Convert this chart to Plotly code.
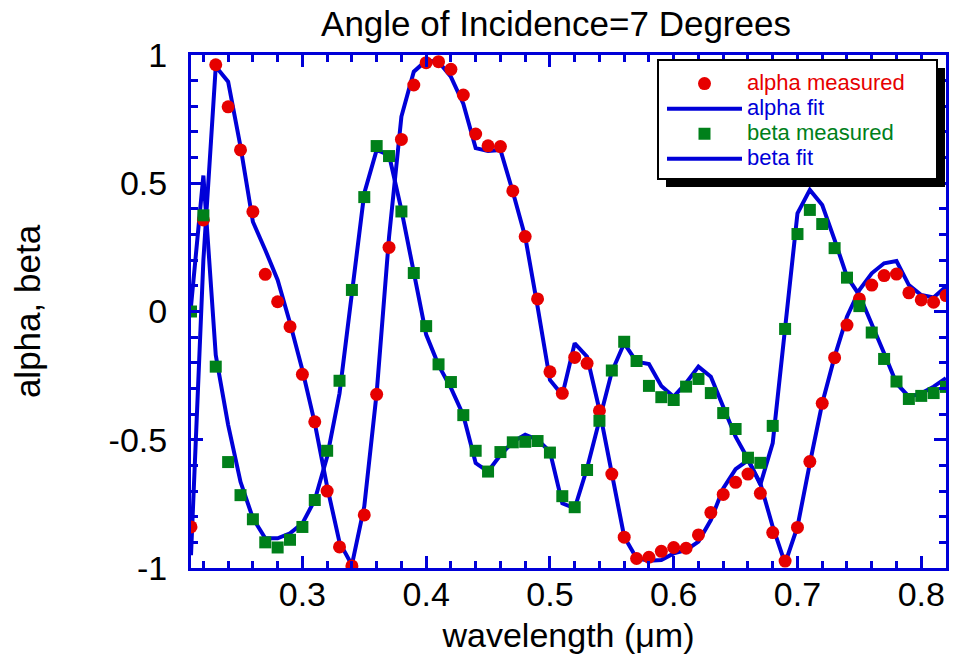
import plotly.graph_objects as go

# ---- data ----
wavelength = [0.21, 0.22, 0.23, 0.24, 0.25, 0.26, 0.27, 0.28, 0.29, 0.30,
              0.31, 0.32, 0.33, 0.34, 0.35, 0.36, 0.37, 0.38, 0.39, 0.40,
              0.41, 0.42, 0.43, 0.44, 0.45, 0.46, 0.47, 0.48, 0.49, 0.50,
              0.51, 0.52, 0.53, 0.54, 0.55, 0.56, 0.57, 0.58, 0.59, 0.60,
              0.61, 0.62, 0.63, 0.64, 0.65, 0.66, 0.67, 0.68, 0.69, 0.70,
              0.71, 0.72, 0.73, 0.74, 0.75, 0.76, 0.77, 0.78, 0.79, 0.80,
              0.81, 0.82]

alpha_measured = [-0.84, 0.357, 0.962, 0.798, 0.63, 0.389, 0.145, 0.038, -0.059, -0.245,
                  -0.43, -0.70, -0.918, -0.992, -0.793, -0.323, 0.25, 0.671, 0.883, 0.97,
                  0.974, 0.944, 0.844, 0.692, 0.646, 0.643, 0.47, 0.292, 0.049, -0.235,
                  -0.319, -0.179, -0.202, -0.387, -0.634, -0.88, -0.963, -0.958, -0.935, -0.92,
                  -0.923, -0.871, -0.784, -0.713, -0.666, -0.634, -0.709, -0.862, -0.973, -0.842,
                  -0.585, -0.358, -0.18, -0.053, 0.049, 0.103, 0.14, 0.146, 0.073, 0.045,
                  0.036, 0.062]

alpha_fit = [-0.95, 0.20, 0.955, 0.896, 0.643, 0.35, 0.24, 0.123, -0.045, -0.228,
             -0.435, -0.683, -0.90, -0.988, -0.76, -0.318, 0.29, 0.76, 0.935, 0.978,
             0.974, 0.915, 0.81, 0.637, 0.626, 0.63, 0.467, 0.292, 0.019, -0.267,
             -0.326, -0.124, -0.176, -0.384, -0.631, -0.878, -0.962, -0.972, -0.969, -0.943,
             -0.93, -0.897, -0.813, -0.69, -0.615, -0.58, -0.67, -0.839, -0.982, -0.839,
             -0.592, -0.358, -0.176, -0.02, 0.084, 0.149, 0.188, 0.197, 0.103, 0.064,
             0.055, 0.097]

beta_measured = [0.0, 0.375, -0.215, -0.587, -0.716, -0.81, -0.90, -0.92, -0.89, -0.84,
                 -0.735, -0.543, -0.27, 0.084, 0.446, 0.645, 0.606, 0.39, 0.15, -0.057,
                 -0.206, -0.275, -0.404, -0.543, -0.624, -0.548, -0.51, -0.508, -0.505, -0.55,
                 -0.72, -0.763, -0.618, -0.426, -0.23, -0.118, -0.193, -0.29, -0.334, -0.345,
                 -0.293, -0.263, -0.318, -0.396, -0.458, -0.57, -0.59, -0.446, -0.068, 0.302,
                 0.396, 0.341, 0.247, 0.132, 0.021, -0.082, -0.185, -0.273, -0.341, -0.329,
                 -0.318, -0.294]

beta_fit = [0.02, 0.53, -0.17, -0.442, -0.664, -0.806, -0.884, -0.884, -0.865, -0.826,
            -0.735, -0.566, -0.319, 0.084, 0.461, 0.63, 0.61, 0.396, 0.149, -0.09,
            -0.209, -0.298, -0.404, -0.591, -0.624, -0.56, -0.508, -0.48, -0.50, -0.546,
            -0.748, -0.767, -0.611, -0.43, -0.235, -0.124, -0.196, -0.205, -0.29, -0.332,
            -0.279, -0.215, -0.254, -0.371, -0.488, -0.575, -0.675, -0.513, -0.072, 0.383,
            0.474, 0.415, 0.279, 0.136, 0.064, -0.046, -0.163, -0.28, -0.332, -0.319,
            -0.293, -0.26]

x_tick_vals = [0.3, 0.4, 0.5, 0.6, 0.7, 0.8]
x_tick_text = ["0.3", "0.4", "0.5", "0.6", "0.7", "0.8"]
y_tick_vals = [-1, -0.5, 0, 0.5, 1]
y_tick_text = ["-1", "-0.5", "0", "0.5", "1"]

series_names = ["alpha measured", "alpha fit", "beta measured", "beta fit"]

# ---- styling ----
BLUE = "#0000d8"
RED = "#e60000"
GREEN = "#00801a"
FONT = "Liberation Sans, Arial, sans-serif"
LEG_TXT = 22


def leg_name(txt, col):
    return "<span style='color:%s;font-size:%dpx'>%s</span>" % (col, LEG_TXT, txt)


W, H = 958, 658
ML, MR, MT, MB = 191, 12, 55, 90

fig = go.Figure()

fig.add_trace(go.Scatter(x=wavelength, y=alpha_fit, mode="lines", name=leg_name(series_names[1], BLUE),
                         line=dict(color=BLUE, width=4), legendrank=2))
fig.add_trace(go.Scatter(x=wavelength, y=beta_fit, mode="lines", name=leg_name(series_names[3], BLUE),
                         line=dict(color=BLUE, width=4), legendrank=4))
fig.add_trace(go.Scatter(x=wavelength, y=alpha_measured, mode="markers", name=leg_name(series_names[0], RED),
                         marker=dict(color=RED, size=13, symbol="circle", line=dict(width=0)), legendrank=1))
fig.add_trace(go.Scatter(x=wavelength, y=beta_measured, mode="markers", name=leg_name(series_names[2], GREEN),
                         marker=dict(color=GREEN, size=12, symbol="square", line=dict(width=0)), legendrank=3))

pw = W - ML - MR
ph = H - MT - MB


def px_x(p):
    return (p - ML) / pw


def px_y(p):
    return (H - MB - p) / ph


# legend box: shadow + white box with black border
box_l, box_t, box_r, box_b = 658, 60, 937, 179
sh = 8
shapes = [
    dict(type="rect", xref="paper", yref="paper", layer="above",
         x0=px_x(box_l + sh), x1=px_x(box_r + sh), y0=px_y(box_b + sh), y1=px_y(box_t + sh),
         fillcolor="black", line=dict(width=0)),
    dict(type="rect", xref="paper", yref="paper", layer="above",
         x0=px_x(box_l), x1=px_x(box_r), y0=px_y(box_b), y1=px_y(box_t),
         fillcolor="white", line=dict(color="black", width=2)),
]

axis_common = dict(
    showline=True, linecolor=BLUE, linewidth=3, mirror="ticks",
    ticks="inside", tickcolor=BLUE, tickwidth=3, ticklen=12,
    showgrid=False, zeroline=False,
    tickfont=dict(family=FONT, size=34, color="black"),
)

fig.update_layout(
    width=W, height=H,
    margin=dict(l=ML, r=MR, t=MT, b=MB, autoexpand=False),
    paper_bgcolor="white", plot_bgcolor="white",
    font=dict(family=FONT, color="black"),
    title=dict(text="Angle of Incidence=7 Degrees", font=dict(family=FONT, size=35, color="black"),
               x=556 / W, xref="container", xanchor="center", y=1 - 24 / H, yref="container", yanchor="middle"),
    xaxis=dict(range=[0.21, 0.82], tickmode="array", tickvals=x_tick_vals, ticktext=x_tick_text,
               minor=dict(ticks="inside", dtick=0.02, tick0=0.2, ticklen=7, tickwidth=3, tickcolor=BLUE),
               title=dict(text="wavelength (μm)", font=dict(family=FONT, size=34), standoff=12),
               ticklabelstandoff=-6, automargin=False, **axis_common),
    yaxis=dict(range=[-1, 1], tickmode="array", tickvals=y_tick_vals, ticktext=y_tick_text,
               minor=dict(ticks="inside", dtick=0.1, tick0=0, ticklen=7, tickwidth=3, tickcolor=BLUE),
               title=dict(text="alpha, beta", font=dict(family=FONT, size=35), standoff=58),
               ticklabelstandoff=14, automargin=False, **axis_common),
    showlegend=True,
    legend=dict(x=px_x(box_l + 4), y=px_y(box_t + 6), xanchor="left", yanchor="top",
                bgcolor="rgba(0,0,0,0)", borderwidth=0, itemwidth=75,
                font=dict(family=FONT, size=17, color="black"), tracegroupgap=0),
    shapes=shapes,
)

fig.write_html("out.html")
